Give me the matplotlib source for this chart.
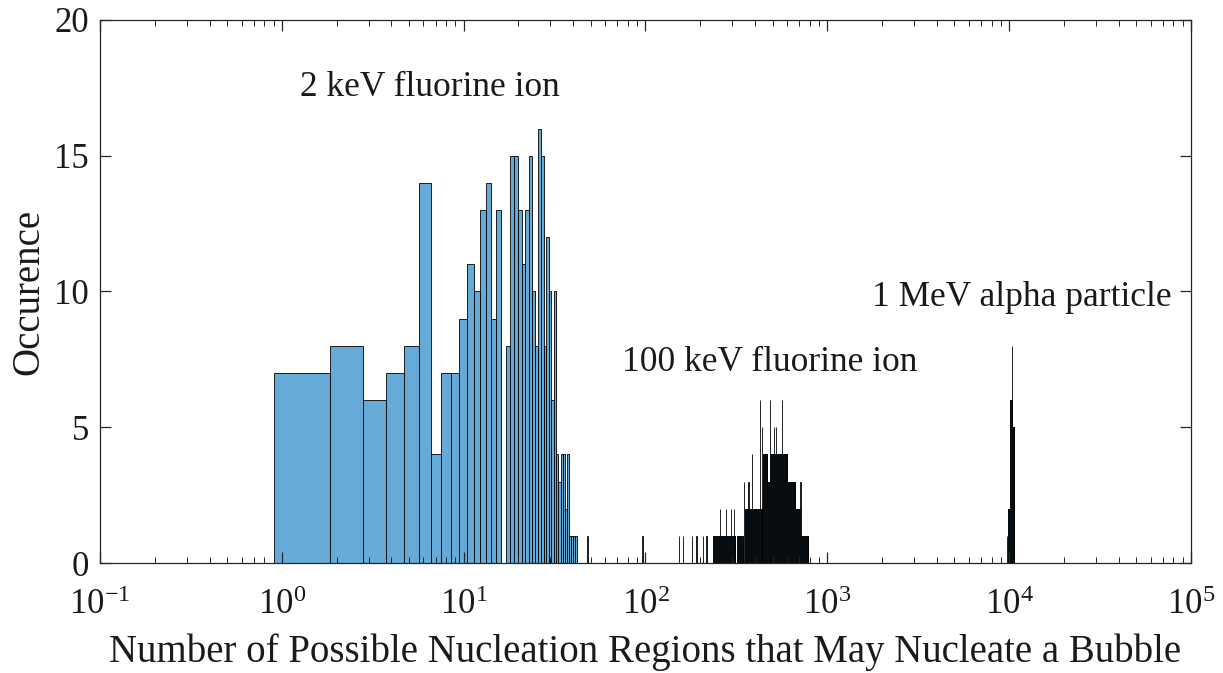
import numpy as np
import matplotlib.pyplot as plt
from matplotlib.ticker import LogLocator, NullFormatter

plt.rcParams['font.family'] = 'Liberation Serif'
plt.rcParams['mathtext.fontset'] = 'custom'
plt.rcParams['mathtext.rm'] = 'Liberation Serif'
plt.rcParams['mathtext.it'] = 'Liberation Serif:italic'
plt.rcParams['mathtext.bf'] = 'Liberation Serif:bold'
plt.rcParams['axes.unicode_minus'] = False

# histogram bins of constant width
bin_start = 0.9
bin_width = 0.95
n_bins = 11500

# counts of the first bins (2 keV fluorine ion)
low_counts = [7, 8, 6, 7, 8, 14, 4, 7, 7, 9, 11, 10, 13, 14, 9, 13, 0, 8, 15, 15,
              13, 11, 13, 15, 10, 8, 16, 15, 8, 12, 10, 6, 10, 4, 3, 4, 4, 2, 4, 1,
              1, 1, 1]

# single bins standing on their own: value, count
spike_values = [47.5, 96, 152, 161, 180, 190, 207, 216, 257, 278, 295, 305, 348,
                369, 385, 427, 437, 482, 510, 522, 564, 624, 712, 760, 768,
                9710, 10400]
spike_counts = [1, 1, 1, 1, 1, 1, 1, 1, 2, 2, 2, 2, 3,
                3, 4, 6, 5, 6, 5, 5, 6, 3, 3, 1, 1,
                1, 8]

# neighbouring bins sharing one count: from, to, count
run_lo = [233, 318, 352, 443, 466, 484, 600, 665, 705, 9900, 10120, 10340]
run_hi = [312, 343, 440, 466, 484, 600, 665, 705, 785, 10120, 10340, 10650]
run_count = [1, 1, 2, 4, 3, 4, 3, 2, 1, 2, 6, 5]

edges = bin_start + bin_width * np.arange(n_bins + 1)
counts = np.zeros(n_bins)
counts[:len(low_counts)] = low_counts
for lo, hi, c in zip(run_lo, run_hi, run_count):
    sel = (edges[:-1] >= lo) & (edges[1:] <= hi)
    counts[sel] = c
for v, c in zip(spike_values, spike_counts):
    k = int((v - bin_start) // bin_width)
    counts[k] = max(counts[k], c)

fig = plt.figure(figsize=(12.23, 6.73), dpi=100)
ax = fig.add_axes([0.0818, 0.1634, 0.892, 0.807])

nz = counts > 0
ax.bar(edges[:-1][nz], counts[nz], width=bin_width, align='edge',
       color='#66aad7', edgecolor='black', linewidth=0.6)

ax.set_xscale('log')
ax.set_xlim(0.1, 1e5)
ax.set_ylim(0, 20)
ax.set_yticks([0, 5, 10, 15, 20])
ax.xaxis.set_major_locator(LogLocator(base=10, numticks=10))
ax.xaxis.set_minor_locator(LogLocator(base=10, subs=np.arange(2, 10), numticks=20))
ax.xaxis.set_minor_formatter(NullFormatter())

for s in ax.spines.values():
    s.set_color('#262626')
    s.set_linewidth(0.9)
ax.tick_params(which='both', direction='in', top=True, right=True,
               color='#262626', labelcolor='#1a1a1a', labelsize=25)
ax.tick_params(which='major', length=8, width=0.9)
ax.tick_params(which='minor', length=4, width=0.7)
ax.tick_params(axis='x', pad=19)
ax.tick_params(axis='y', pad=8)

ax.set_xlabel('Number of Possible Nucleation Regions that May Nucleate a Bubble',
              fontsize=28, color='#1a1a1a', labelpad=8)
ax.set_ylabel('Occurence', fontsize=28, color='#1a1a1a', labelpad=5)

ax.text(1.26, 17.5, '2 keV fluorine ion', fontsize=25.5, va='center', color='#1a1a1a')
ax.text(74, 7.37, '100 keV fluorine ion', fontsize=25.5, va='center', color='#1a1a1a')
ax.text(1762, 9.76, '1 MeV alpha particle', fontsize=25.5, va='center', color='#1a1a1a')

fig.savefig('out.png', dpi=100)
